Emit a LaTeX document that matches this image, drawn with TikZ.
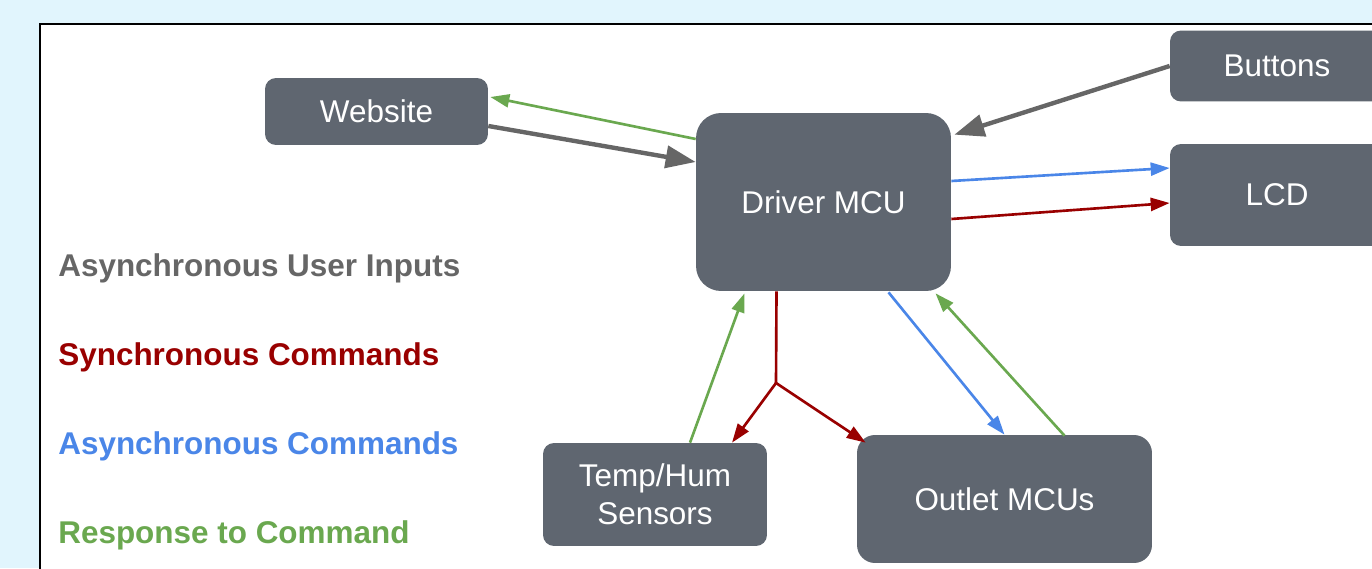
\documentclass[tikz,border=0pt]{standalone}
\usepackage{fontspec}
\setmainfont{Liberation Sans}
\usetikzlibrary{arrows.meta, calc}

\definecolor{skyback}{RGB}{225,245,253}
\definecolor{boxgray}{RGB}{95,102,112}
\definecolor{usergray}{RGB}{102,102,102}
\definecolor{syncred}{RGB}{153,0,0}
\definecolor{asyncblue}{RGB}{74,134,232}
\definecolor{respgreen}{RGB}{106,168,79}

\begin{document}
\begin{tikzpicture}[
    x=0.02cm, y=-0.02cm,
    block/.style={rectangle, fill=boxgray, text=white, rounded corners=0.22cm, inner sep=0pt, align=center, font=\fontsize{17.9}{21.6}\selectfont},
    user/.style={-{Triangle[length=0.6cm, width=0.44cm]}, line width=2.5pt, draw=usergray},
    sync/.style={-{Triangle[length=0.38cm, width=0.26cm]}, line width=1.5pt, draw=syncred},
    async/.style={-{Triangle[length=0.38cm, width=0.26cm]}, line width=1.5pt, draw=asyncblue},
    resp/.style={-{Triangle[length=0.38cm, width=0.26cm]}, line width=1.5pt, draw=respgreen},
    legend/.style={anchor=base west, inner sep=0pt, font=\fontsize{17.9}{21}\selectfont\bfseries}
]
    % page and white panel
    \fill[skyback, use as bounding box] (0,0) rectangle (1372,568);
    \clip (0,0) rectangle (1372,568);
    \draw[fill=white, line width=1.2pt] (40,24) rectangle (1420,620);

    % blocks
    \node[block, minimum width=4.46cm, minimum height=1.34cm] (web) at (376.5,111.5) {Website};
    \node[block, minimum width=5.1cm, minimum height=3.56cm, rounded corners=0.5cm] (drv) at (823.5,202) {Driver MCU};
    \node[block, minimum width=4.28cm, minimum height=1.42cm] (btn) at (1277,66) {Buttons};
    \node[block, minimum width=4.28cm, minimum height=2.04cm] (lcd) at (1277,195) {LCD};
    \node[block, minimum width=4.48cm, minimum height=2.06cm] (tmp) at (655,494.5) {Temp/Hum\\Sensors};
    \node[block, minimum width=5.9cm, minimum height=2.56cm, rounded corners=0.36cm] (out) at (1004.5,499) {Outlet MCUs};
    \coordinate (split) at (776,383);

    % legend
    \node[legend, text=usergray] (lgUser) at (58,276) {Asynchronous User Inputs};
    \node[legend, text=syncred] (lgSync) at (58,365) {Synchronous Commands};
    \node[legend, text=asyncblue] (lgAsync) at (58,454) {Asynchronous Commands};
    \node[legend, text=respgreen] (lgResp) at (58,543) {Response to Command};

    % user inputs
    \draw[user] ($(web.east)+(0,14.5)$) -- ($(drv.west)+(0,-40)$);
    \draw[user] (btn.west) -- ($(drv.north east)+(3,22)$);

    % website and lcd
    \draw[resp] ($(drv.west)+(0,-63)$) -- ($(web.east)+(2,-14.5)$);
    \draw[async] ($(drv.east)+(0,-21)$) -- ($(lcd.west)+(0,-27)$);
    \draw[sync] ($(drv.east)+(0,17)$) -- ($(lcd.west)+(0,8)$);

    % sensors and outlets
    \draw[resp] ($(tmp.north)+(35,0)$) -- ($(drv.south)+(-79,2)$);
    \draw[sync, -] ($(drv.south)+(-47,0)$) -- (split);
    \draw[sync] (split) -- ($(tmp.north)+(77,0)$);
    \draw[sync] (split) -- ($(out.north west)+(9,8)$);
    \draw[async] ($(drv.south)+(65,1)$) -- (out.north);
    \draw[resp] ($(out.north)+(60,1)$) -- ($(drv.south)+(112,2)$);
\end{tikzpicture}
\end{document}
